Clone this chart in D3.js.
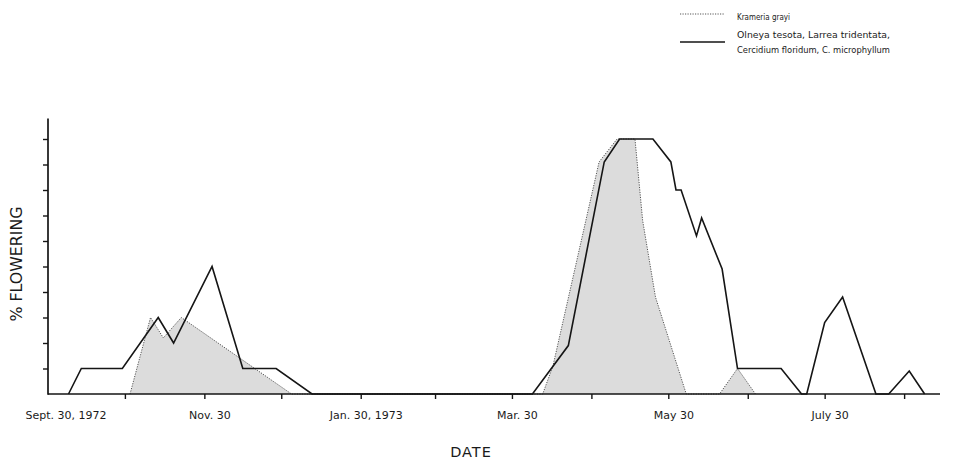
<!DOCTYPE html>
<html><head><meta charset="utf-8">
<script src="https://cdn.jsdelivr.net/npm/d3@7"></script>
<style>
html,body{margin:0;padding:0;background:#fff;}
svg{display:block;}
text{font-family:"DejaVu Sans","Liberation Sans",sans-serif;fill:#1a1a1a;}
</style></head><body>
<svg id="chart" width="961" height="462"></svg>
<script>
// ---- data ----
const startDate = "1972-09-30";
const endDate = "1973-09-13";
const tickDates = ["1972-09-30","1972-10-30","1972-11-30","1972-12-30","1973-01-30","1973-02-28",
  "1973-03-30","1973-04-30","1973-05-30","1973-06-30","1973-07-30","1973-08-30"];
const tickLabels = ["Sept. 30, 1972","","Nov. 30","","Jan. 30, 1973","","Mar. 30","","May 30","","July 30",""];
const yTickValues = [10,20,30,40,50,60,70,80,90,100];
const yMax = 108;

// Olneya tesota, Larrea tridentata, Cercidium floridum, C. microphyllum
const solidDates = ["1972-10-08","1972-10-13","1972-10-29","1972-11-12","1972-11-18","1972-12-03",
  "1972-12-15","1972-12-28","1973-01-11","1973-04-07","1973-04-21","1973-05-05","1973-05-11",
  "1973-05-24","1973-05-31","1973-06-02","1973-06-04","1973-06-10","1973-06-12","1973-06-20",
  "1973-06-26","1973-07-13","1973-07-21","1973-07-23","1973-07-30","1973-08-06","1973-08-19",
  "1973-08-24","1973-09-01","1973-09-07"];
const solidValues = [0,10,10,30,20,50,
  10,10,0,0,19,91,100,
  100,91,80,80,62,69,49,
  10,10,0,0,28,38,0,
  0,9,0];

// Krameria grayi
const kramDates = ["1972-11-01","1972-11-09","1972-11-14","1972-11-21","1973-01-03",
  "1973-04-11","1973-04-15","1973-05-03","1973-05-10","1973-05-17","1973-05-20","1973-05-25","1973-06-06",
  "1973-06-19","1973-06-26","1973-07-03"];
const kramValues = [0,30,22,30,0,
  0,11,91,100,100,68,38,0,
  0,10,0];

const legendLabels = [["Krameria grayi"],["Olneya tesota, Larrea tridentata,","Cercidium floridum,  C. microphyllum"]];
const xTitle = "DATE";
const yTitle = "% FLOWERING";

// ---- drawing ----
const parse = d3.timeParse("%Y-%m-%d");
const svg = d3.select("#chart");
const x = d3.scaleTime().domain([parse(startDate), parse(endDate)]).range([48, 940]);
const y = d3.scaleLinear().domain([0, yMax]).range([394, 118.6]);

const solid = solidDates.map((d,i)=>({date:parse(d), v:solidValues[i]}));
const kram = kramDates.map((d,i)=>({date:parse(d), v:kramValues[i]}));

// shaded area under Krameria
svg.append("path").datum(kram)
  .attr("d", d3.area().x(d=>x(d.date)).y0(y(0)).y1(d=>y(d.v)))
  .attr("fill","#dcdcdc");
// dotted Krameria line
svg.append("path").datum(kram)
  .attr("d", d3.line().x(d=>x(d.date)).y(d=>y(d.v)))
  .attr("fill","none").attr("stroke","#555").attr("stroke-width",1)
  .attr("stroke-dasharray","1.2,1.3");
// solid line
svg.append("path").datum(solid)
  .attr("d", d3.line().x(d=>x(d.date)).y(d=>y(d.v)))
  .attr("fill","none").attr("stroke","#151515").attr("stroke-width",1.6)
  .attr("stroke-linejoin","miter");

// x axis
const xg = svg.append("g").attr("transform",`translate(0,${y(0)})`)
  .call(d3.axisBottom(x).tickValues(tickDates.map(parse)).tickSize(5).tickPadding(12)
    .tickFormat((d,i)=>tickLabels[i]));
xg.select(".domain").remove();
xg.selectAll(".tick line").attr("stroke","#151515").attr("stroke-width",1.4)
  .filter((d,i)=>i===0).remove();
xg.selectAll(".tick text").attr("font-size",11).attr("fill","#1a1a1a")
  .attr("font-family","DejaVu Sans, sans-serif")
  .attr("dx",5)
  .filter((d,i)=>i===0).attr("text-anchor","start").attr("dx",-23);
svg.append("line").attr("x1",x.range()[0]).attr("x2",x.range()[1])
  .attr("y1",y(0)).attr("y2",y(0)).attr("stroke","#151515").attr("stroke-width",1.7);

// y axis
const yg = svg.append("g").attr("transform",`translate(${x.range()[0]},0)`)
  .call(d3.axisLeft(y).tickValues(yTickValues).tickSize(5).tickFormat(""));
yg.select(".domain").remove();
yg.selectAll(".tick line").attr("stroke","#151515").attr("stroke-width",1.4);
svg.append("line").attr("x1",x.range()[0]).attr("x2",x.range()[0])
  .attr("y1",y(0)+0.8).attr("y2",y(yMax)).attr("stroke","#151515").attr("stroke-width",1.7);

// titles
svg.append("text").attr("x",471).attr("y",457).attr("text-anchor","middle")
  .attr("font-size",14.5).attr("letter-spacing",1).text(xTitle);
svg.append("text").attr("transform","translate(22,264) rotate(-90)").attr("text-anchor","middle")
  .attr("font-size",16).attr("textLength",115).attr("lengthAdjust","spacingAndGlyphs").text(yTitle);

// legend
const lg = svg.append("g");
lg.append("line").attr("x1",680).attr("x2",725).attr("y1",14).attr("y2",14)
  .attr("stroke","#555").attr("stroke-width",1).attr("stroke-dasharray","1.2,1.3");
lg.append("line").attr("x1",680).attr("x2",725).attr("y1",42).attr("y2",42)
  .attr("stroke","#151515").attr("stroke-width",1.5);
const legendY = [[20],[37.5,52.5]];
const legendW = [[53],[153,153]];
legendLabels.forEach((lines,k)=>{
  lines.forEach((t,j)=>{
    lg.append("text").attr("x",737).attr("y",legendY[k][j]).attr("font-size",9.5)
      .attr("textLength",legendW[k][j]).attr("lengthAdjust","spacingAndGlyphs").text(t);
  });
});
</script>
</body></html>
